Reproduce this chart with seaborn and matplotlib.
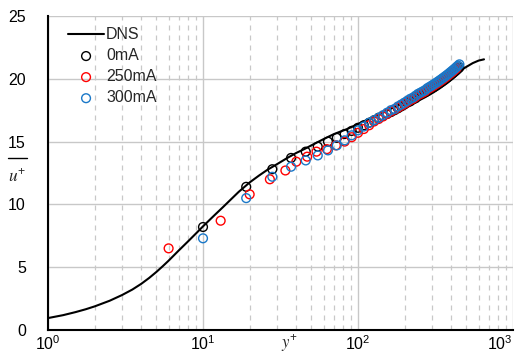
import matplotlib
matplotlib.use("Agg")
import matplotlib.pyplot as plt
import matplotlib.ticker as mticker
import matplotlib.transforms as mtransforms
from matplotlib.lines import Line2D
import seaborn as sns

# DNS profile
dns_y = [1, 1.25, 1.5, 1.75, 2, 2.5, 3, 3.5, 4, 4.5, 5, 5.5, 6, 7, 8, 9, 10, 11, 12,
         13.5, 15, 17, 20, 23, 26, 30, 35, 40, 45, 50, 60, 70, 85, 100, 125, 150,
         175, 200, 250, 300, 350, 400, 450, 500, 550, 600, 650]
dns_u = [0.95, 1.18, 1.42, 1.65, 1.88, 2.33, 2.78, 3.22, 3.68, 4.15, 4.62, 5.08, 5.52,
         6.35, 7.05, 7.68, 8.25, 8.75, 9.2, 9.8, 10.35, 11.0, 11.75, 12.3, 12.75, 13.2,
         13.7, 14.1, 14.4, 14.7, 15.2, 15.6, 16.0, 16.4, 16.95, 17.4, 17.8, 18.15,
         18.75, 19.3, 19.8, 20.25, 20.6, 20.95, 21.25, 21.45, 21.55]

# 0mA
y0 = [10, 19, 28, 37, 46, 55, 64, 73, 82, 91,
      100, 109, 118, 127, 136, 145, 154, 163, 172, 181,
      190, 199, 208, 217, 226, 235, 244, 253, 262, 271,
      280, 289, 298, 307, 316, 325, 334, 343, 352, 361,
      370, 379, 388, 397, 406, 415, 424, 433, 442, 451]
u0 = [8.2, 11.4, 12.8, 13.7, 14.2, 14.6, 15.0, 15.3, 15.6, 15.85,
      16.1, 16.3, 16.5, 16.7, 16.9, 17.05, 17.2, 17.35, 17.5, 17.65,
      17.8, 17.95, 18.1, 18.2, 18.35, 18.45, 18.6, 18.7, 18.8, 18.9,
      19.0, 19.1, 19.2, 19.3, 19.4, 19.5, 19.6, 19.7, 19.8, 19.9,
      20.0, 20.1, 20.2, 20.3, 20.4, 20.5, 20.6, 20.7, 20.8, 20.9]

# 250mA
y250 = [6, 13, 20, 27, 34, 40, 47, 54, 63, 72,
        82, 91, 100, 109, 118, 127, 136, 145, 154, 163,
        172, 181, 190, 199, 208, 217, 226, 235, 244, 253,
        262, 271, 280, 289, 298, 307, 316, 325, 334, 343,
        352, 361, 370, 379, 388, 397, 406, 415, 424, 433]
u250 = [6.5, 8.7, 10.8, 12.0, 12.7, 13.4, 13.8, 14.2, 14.4, 14.7,
        15.0, 15.35, 15.7, 16.0, 16.3, 16.6, 16.8, 17.0, 17.2, 17.4,
        17.55, 17.7, 17.85, 18.0, 18.15, 18.3, 18.4, 18.55, 18.7, 18.8,
        18.9, 19.0, 19.15, 19.25, 19.35, 19.45, 19.55, 19.65, 19.75, 19.85,
        19.95, 20.05, 20.15, 20.25, 20.35, 20.45, 20.55, 20.65, 20.75, 20.85]

# 300mA
y300 = [10, 19, 28, 37, 46, 55, 64, 73, 82, 91,
        100, 109, 118, 127, 136, 145, 154, 163, 172, 181,
        190, 199, 208, 217, 226, 235, 244, 253, 262, 271,
        280, 289, 298, 307, 316, 325, 334, 343, 352, 361,
        370, 379, 388, 397, 406, 415, 424, 433, 442, 451]
u300 = [7.3, 10.5, 12.2, 13.0, 13.5, 13.9, 14.3, 14.7, 15.1, 15.5,
        15.9, 16.2, 16.5, 16.7, 16.9, 17.1, 17.3, 17.5, 17.6, 17.8,
        17.95, 18.1, 18.25, 18.4, 18.5, 18.65, 18.8, 18.9, 19.0, 19.1,
        19.25, 19.35, 19.45, 19.55, 19.65, 19.75, 19.85, 19.95, 20.05, 20.15,
        20.25, 20.35, 20.45, 20.55, 20.65, 20.75, 20.85, 20.95, 21.05, 21.15]

x_ticks = [1, 10, 100, 1000]
x_ticklabels = ['$10^{0}$', '$10^{1}$', '$10^{2}$', '$10^{3}$']

sns.set_theme(style="white")
plt.rcParams['font.family'] = ['Liberation Sans', 'DejaVu Sans']
plt.rcParams['mathtext.default'] = 'regular'

fig = plt.figure(figsize=(5.16, 3.53), dpi=100)
ax = fig.add_axes([48 / 516, 1 - 330 / 353, 465 / 516, 314 / 353])

sns.lineplot(x=dns_y, y=dns_u, color='black', lw=1.5, label='DNS', ax=ax, zorder=2)
ms = 40
sns.scatterplot(x=y0, y=u0, marker='o', s=ms, facecolors='none', edgecolor='black',
                linewidth=1.0, label='0mA', ax=ax, zorder=3)
sns.scatterplot(x=y250, y=u250, marker='o', s=ms, facecolors='none', edgecolor='#ff0000',
                linewidth=1.0, label='250mA', ax=ax, zorder=4)
sns.scatterplot(x=y300, y=u300, marker='o', s=ms, facecolors='none', edgecolor='#1a78c8',
                linewidth=1.0, label='300mA', ax=ax, zorder=5)

ax.set_xscale('log')
ax.set_xlim(1, 1000)
ax.set_ylim(0, 25)
ax.yaxis.set_major_locator(mticker.MultipleLocator(5))
ax.set_xticks(x_ticks)
ax.set_xticklabels(x_ticklabels)
ax.xaxis.set_minor_locator(mticker.LogLocator(base=10, subs=range(2, 10)))
ax.xaxis.set_minor_formatter(mticker.NullFormatter())

# nudge x tick labels the way the reference places them
for lbl, dx in zip(ax.get_xticklabels(), [5, 0, -7, -2]):
    lbl.set_transform(lbl.get_transform()
                      + mtransforms.ScaledTranslation(dx / 100, 0, fig.dpi_scale_trans))
ax.get_xticklabels()[-1].set_ha('right')

ax.grid(True, which='major', axis='both', color='#c8c8c8', lw=1.0, ls='-')
ax.grid(True, which='minor', axis='x', color='#c8c8c8', lw=0.9, ls=(0, (4, 4)))
ax.set_axisbelow(True)

for side in ['top', 'right']:
    ax.spines[side].set_visible(False)
for side in ['left', 'bottom']:
    ax.spines[side].set_color('black')
    ax.spines[side].set_linewidth(1.5)

ax.tick_params(axis='both', which='both', length=0, labelsize=11.5, colors='black')
ax.tick_params(axis='y', pad=16)
ax.tick_params(axis='x', pad=3)

ax.set_xlabel(r'$\mathit{y}^{+}$', fontsize=12, math_fontfamily='stix')
ax.xaxis.set_label_coords(0.52, -0.04)
ax.xaxis.label.set_va('center')
ax.set_ylabel(r'$\mathit{u}^{+}$', fontsize=12.5, rotation=0, math_fontfamily='stix')
ax.yaxis.set_label_coords(-0.066, 0.492)
ax.yaxis.label.set_va('center')
# overline above the u+ label
fig.add_artist(Line2D([8 / 516, 27 / 516], [1 - 158 / 353, 1 - 158 / 353],
                      transform=fig.transFigure, color='black', lw=1.0))

leg = ax.legend(loc='upper left', frameon=False, fontsize=11.5, handlelength=2.2,
                handletextpad=0.15, labelspacing=0.38, borderaxespad=0.3,
                bbox_to_anchor=(0.02, 1.0))

fig.savefig('out.png', dpi=100)
